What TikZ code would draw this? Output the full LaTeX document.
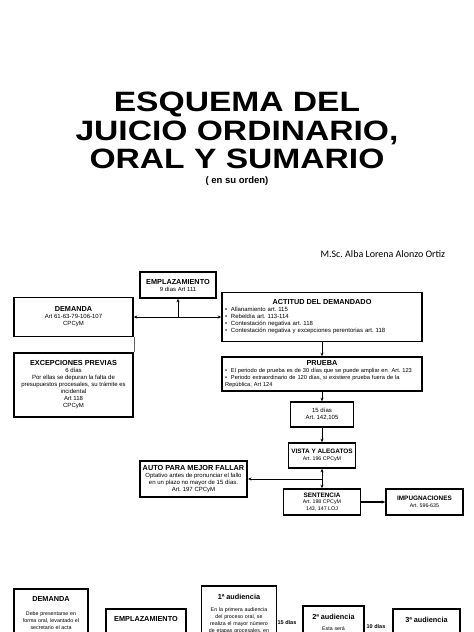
\documentclass[tikz,border=0pt]{standalone}
\usepackage{fontspec}
\setmainfont{Liberation Sans}
\newfontfamily\titlefont[FakeStretch=1.2]{Liberation Sans}
\newfontfamily\headfont{Liberation Sans}
\newfontfamily\authorfont{Carlito}
\usetikzlibrary{arrows.meta}
\frenchspacing
\newcommand{\hd}[1]{{\headfont\bfseries\fontsize{7.3}{8.5}\selectfont #1}}
\newcommand{\hds}[1]{{\headfont\bfseries\fontsize{6.4}{7.5}\selectfont #1}}
\newcommand{\bitem}{\par\noindent\hangindent=6pt\hangafter=1\makebox[6pt][l]{\textbullet}}
\begin{document}
\begin{tikzpicture}[x=1pt,y=-1pt,
    box/.style = {draw,line width=1.6pt,inner sep=3pt,align=center,font=\fontsize{6}{7}\selectfont},
    sbox/.style = {box,font=\fontsize{5.3}{6.5}\selectfont},
    bbox/.style = {draw,line width=1.5pt,anchor=north,align=center,inner xsep=3pt,inner ysep=8pt,
                   text depth=60pt,font=\fontsize{5.3}{7}\selectfont},
    arrow/.style = {line width=0.8pt,-{Stealth[length=3.5pt,width=3pt]}}]
    \useasboundingbox (0,0) rectangle (474,632);
    \clip (0,0) rectangle (474,632);

    % Title
    \node [anchor=north,align=center,inner sep=0pt,
           font=\titlefont\bfseries\fontsize{28}{28.5}\selectfont] (title) at (237,92)
          {ESQUEMA DEL\\JUICIO ORDINARIO,\\ORAL Y SUMARIO};
    \node [anchor=base,font=\bfseries\fontsize{9.5}{11}\selectfont] (orden) at (237,183) {( en su orden)};
    \node [anchor=base west,font=\authorfont\fontsize{10}{12}\selectfont] (author) at (317,257)
          {M.Sc. Alba Lorena Alonzo Ortiz};

    % Ordinario
    \node [box,minimum width=76pt,minimum height=26pt] (emplaz) at (178,285)
          {\hd{EMPLAZAMIENTO}\\9 días Art 111};
    \node [box,minimum width=119pt,minimum height=39pt] (dem) at (73.5,317)
          {\hd{DEMANDA}\\Art 61-63-79-106-107\\CPCyM};
    \node [box,minimum width=119pt,minimum height=64pt] (excep) at (73.5,385)
          {\hd{EXCEPCIONES PREVIAS}\\6 días\\Por ellas se depuran la falta de\\presupuestos procesales, su trámite es\\incidental\\Art 118\\CPCyM};
    \node [box,minimum width=200pt,minimum height=49pt,text width=194pt,inner xsep=3pt,align=left] (actitud) at (322,317)
          {{\centering\hd{ACTITUD DEL DEMANDADO}\par}%
           \bitem Allanamiento art. 115\bitem Rebeldía art. 113-114\bitem Contestación negativa art. 118%
           \bitem Contestación negativa y excepciones perentorias art. 118};
    \node [box,minimum width=200pt,minimum height=34pt,text width=194pt,inner xsep=3pt,align=left,
           font=\fontsize{5.7}{7}\selectfont] (prueba) at (322,374)
          {{\centering\hd{PRUEBA}\par}%
           \bitem \mbox{El periodo de prueba es de 30 días que se puede ampliar en\ \ Art. 123}%
           \bitem Periodo extraordinario de 120 días, si existiere prueba fuera de la\newline República, Art 124};
    \node [box,minimum width=63pt,minimum height=25pt] (quince) at (322,414.5) {15 días\\Art. 142,105};
    \node [sbox,minimum width=63pt,minimum height=25pt] (vista) at (322,455.5)
          {\hds{VISTA Y ALEGATOS}\\Art. 196 CPCyM};
    \node [sbox,minimum width=77pt,minimum height=26pt] (sentencia) at (322,502)
          {\hds{SENTENCIA}\\Art. 198 CPCyM\\143, 147 LOJ};
    \node [box,minimum width=107pt,minimum height=36pt] (auto) at (193.5,479)
          {\hd{AUTO PARA MEJOR FALLAR}\\Optativo antes de pronunciar el fallo\\en un plazo no mayor de 15 días.\\Art. 197 CPCyM};
    \node [sbox,minimum width=77pt,minimum height=26pt] (impug) at (424.5,502)
          {\hds{IMPUGNACIONES}\\Art. 596-635};

    \coordinate (j1) at (178,317);
    \coordinate (j2) at (322,479);
    \draw[arrow] (j1) -- (emplaz.south);
    \draw[arrow] (j1) -- (dem.east);
    \draw[arrow] (j1) -- (actitud.west);
    \draw[line width=0.6pt,black!60] (dem.south east) -- (excep.north east);
    \draw[arrow] (actitud) -- (prueba);
    \draw[arrow] (prueba) -- (quince);
    \draw[arrow] (quince) -- (vista);
    \draw[arrow] (j2) -- (vista.south);
    \draw[arrow] (j2) -- (sentencia.north);
    \draw[arrow] (j2) -- (auto.east);
    \draw[arrow,line width=1.3pt] (sentencia) -- (impug);

    % Oral
    \node [bbox,text width=68pt] (bdem) at (51,588)
          {\hd{DEMANDA}\\[7pt]Debe presentarse en\\forma oral, levantado el\\secretario el acta};
    \node [bbox,text width=74pt] (bemp) at (146,608) {\hd{EMPLAZAMIENTO}};
    \node [bbox,text width=69pt] (baud1) at (239,585)
          {\hd{1ª audiencia}\\[5pt]En la primera audiencia\\del proceso oral, se\\realiza el mayor número\\de etapas procesales, en};
    \node [bbox,text width=55pt] (baud2) at (333.5,605) {\hd{2ª audiencia}\\[4pt]Esta será};
    \node [bbox,text width=61pt] (baud3) at (426.5,608) {\hd{3ª audiencia}};
    \node [font=\bfseries\fontsize{5.5}{6}\selectfont] (d15) at (287,623) {15 días};
    \node [font=\bfseries\fontsize{5.5}{6}\selectfont] (d10) at (376,627) {10 días};
\end{tikzpicture}
\end{document}
